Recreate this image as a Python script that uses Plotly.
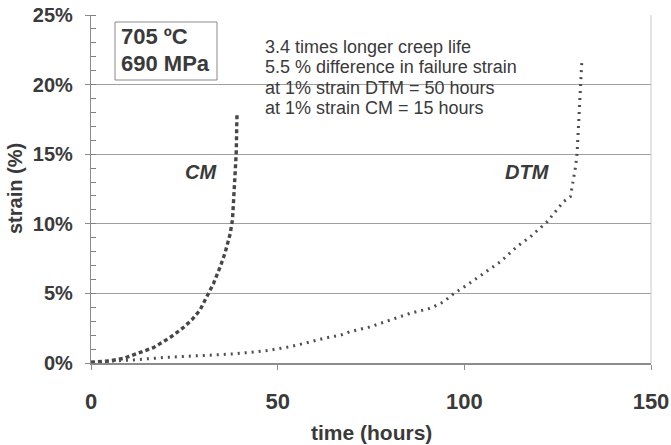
import plotly.graph_objects as go

# ---- data (hours, strain %) ----
cm_time = [0, 2, 5, 8.7, 11.3, 14, 16.7, 19.4, 22.1, 24.7, 27, 29.2, 31, 32.8,
           34.6, 35.9, 37.3, 37.9, 38.2, 38.6, 38.9, 39.0, 39.1]
cm_strain = [0.05, 0.1, 0.15, 0.33, 0.57, 0.81, 1.1, 1.53, 2.0, 2.54, 3.1, 3.8,
             4.77, 5.7, 6.9, 7.9, 9.3, 10.3, 11.7, 13.5, 15.1, 16.5, 17.8]

dtm_time = [0, 5, 11.3, 20.3, 29.2, 38.2, 47.1, 53.4, 57.8, 62.3, 66.8, 69.4,
            74.8, 80.2, 85.5, 90.9, 94.5, 97.2, 100.7, 105.2, 109.7, 114.1,
            117.7, 122.2, 124.9, 126.6, 128.4, 129.8, 130.2, 130.7, 131.1, 131.5]
dtm_strain = [0.05, 0.12, 0.22, 0.41, 0.53, 0.65, 0.89, 1.17, 1.46, 1.77, 2.0,
              2.25, 2.6, 3.1, 3.57, 3.93, 4.4, 5.0, 5.6, 6.44, 7.28, 8.36, 9.07,
              10.15, 11.0, 11.6, 11.95, 14.1, 15.07, 17.5, 20.1, 21.8]

x_range = [0, 150]
x_step = 50
y_range = [0, 25]
y_step = 5
y_minor_step = 1

x_title = "time (hours)"
y_title = "strain (%)"
condition_lines = ["705 ºC", "690 MPa"]
note_lines = ["3.4 times longer creep life",
              "5.5 % difference in failure strain",
              "at 1% strain DTM = 50 hours",
              "at 1% strain CM = 15 hours"]

FONT = "Liberation Sans, Arial, sans-serif"
TXT = "#3a3a3a"

fig = go.Figure()
fig.add_trace(go.Scatter(x=cm_time, y=cm_strain, mode="lines", name="CM",
                         line=dict(color="#474747", width=3.4, dash="4px,3px")))
fig.add_trace(go.Scatter(x=dtm_time, y=dtm_strain, mode="lines", name="DTM",
                         line=dict(color="#4e4e4e", width=3, dash="2px,5px")))

W, H = 671, 445
L, R, T, B = 91, 20, 15, 82
pw, ph = W - L - R, H - T - B


def px(xp):
    return (xp - L) / pw


def py(yp):
    return (H - B - yp) / ph


annotations = []
for i, t in enumerate(condition_lines):
    annotations.append(dict(xref="paper", yref="paper", x=px(119), y=py(37 + 26 * i),
                            xanchor="left", yanchor="middle", text="<b>%s</b>" % t,
                            showarrow=False, font=dict(family=FONT, size=22, color=TXT)))
for i, t in enumerate(note_lines):
    annotations.append(dict(xref="paper", yref="paper", x=px(263), y=py(47 + 20.4 * i),
                            xanchor="left", yanchor="middle", text=t,
                            showarrow=False, font=dict(family=FONT, size=18, color=TXT)))
annotations.append(dict(x=29.5, y=13.7, xref="x", yref="y", text="<b><i>CM</i></b>",
                        showarrow=False, font=dict(family=FONT, size=20, color=TXT)))
annotations.append(dict(x=117, y=13.7, xref="x", yref="y", text="<b><i>DTM</i></b>",
                        showarrow=False, font=dict(family=FONT, size=20, color=TXT)))
# axis titles
annotations.append(dict(xref="paper", yref="paper", x=0.5, y=py(432),
                        xanchor="center", yanchor="middle", text="<b>%s</b>" % x_title,
                        showarrow=False, font=dict(family=FONT, size=21, color=TXT)))
annotations.append(dict(xref="paper", yref="paper", x=px(15), y=0.5, textangle=-90,
                        xanchor="center", yanchor="middle", text="<b>%s</b>" % y_title,
                        showarrow=False, font=dict(family=FONT, size=20, color=TXT)))

shapes = [
    dict(type="rect", xref="paper", yref="paper", x0=px(253), x1=px(532),
         y0=py(120), y1=py(30), fillcolor="white", line=dict(width=0), layer="between"),
    dict(type="rect", xref="paper", yref="paper", x0=px(115), x1=px(217),
         y0=py(80), y1=py(22), fillcolor="white",
         line=dict(color="#8a8a8a", width=1), layer="above"),
    dict(type="line", xref="paper", yref="paper", x0=1, x1=1, y0=0, y1=1,
         line=dict(color="#c8c8c8", width=1)),
]

fig.update_layout(
    width=W, height=H,
    margin=dict(l=L, r=R, t=T, b=B, autoexpand=False),
    paper_bgcolor="white", plot_bgcolor="white",
    showlegend=False,
    annotations=annotations,
    shapes=shapes,
    font=dict(family=FONT, color=TXT),
    xaxis=dict(range=x_range, tickmode="linear", tick0=0, dtick=x_step,
               showgrid=False, zeroline=False, automargin=False,
               showline=True, linecolor="#8c8c8c", linewidth=1.5,
               ticks="outside", ticklen=5, tickcolor="#8c8c8c",
               ticklabelstandoff=13,
               tickfont=dict(family=FONT, size=22, color=TXT, weight="bold")),
    yaxis=dict(range=y_range, tickmode="linear", tick0=0, dtick=y_step, ticksuffix="%",
               showgrid=True, gridcolor="#a0a0a0", gridwidth=1.2, zeroline=False,
               automargin=False,
               showline=True, linecolor="#8c8c8c", linewidth=1.2,
               ticks="outside", ticklen=5, tickcolor="#8c8c8c",
               ticklabelstandoff=8,
               minor=dict(ticks="inside", dtick=y_minor_step, ticklen=5, tickwidth=1,
                          tickcolor="#808080", showgrid=False),
               tickfont=dict(family=FONT, size=20, color=TXT, weight="bold")),
)

fig.write_html("out.html")
